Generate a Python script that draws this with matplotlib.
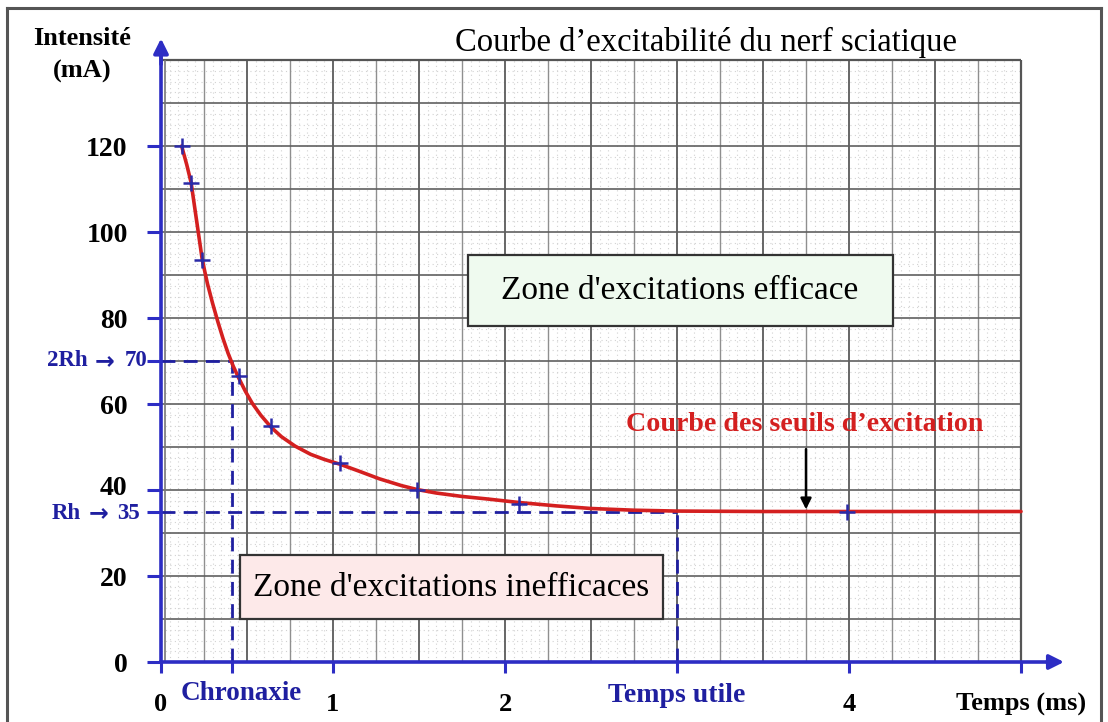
import numpy as np
import matplotlib
matplotlib.use("Agg")
import matplotlib.pyplot as plt
from matplotlib.patches import Rectangle
from matplotlib.lines import Line2D
from matplotlib.transforms import ScaledTranslation

# ---------------- data ----------------
marker_t = [0.12, 0.175, 0.24, 0.455, 0.64, 1.04, 1.49, 2.08, 3.99]
marker_i = [120, 111.5, 93.5, 66.5, 54.9, 46.3, 40.0, 36.8, 35.0]

curve_t = [0.12, 0.15, 0.175, 0.21, 0.24, 0.27, 0.30, 0.33, 0.36, 0.39, 0.42,
           0.45, 0.49, 0.53, 0.58, 0.64, 0.70, 0.78, 0.87, 0.95, 1.04, 1.15,
           1.27, 1.40, 1.49, 1.60, 1.75, 1.90, 2.08, 2.30, 2.50, 2.75, 3.00,
           3.50, 4.00, 4.50, 5.00]
curve_i = [120, 115.6, 111.5, 101.8, 93.5, 88.0, 83.4, 79.2, 75.3, 71.8, 68.8,
           66.2, 63.0, 60.2, 57.4, 54.6, 52.4, 50.2, 48.3, 47.1, 46.0, 44.4,
           42.6, 41.0, 40.1, 39.3, 38.5, 37.9, 37.1, 36.3, 35.7, 35.3, 35.1,
           35.0, 35.0, 35.0, 35.0]

rheobase = 35
double_rheobase = 70
chronaxie = 0.41
temps_utile = 3.0

y_ticks = [0, 20, 40, 60, 80, 100, 120]
y_tick_labels = ["0", "20", "40", "60", "80", "100", "120"]
x_ticks = [0, 1, 2, 4, 5]
x_tick_labels = ["0", "1", "2", "4", "Temps (ms)"]

title = "Courbe d\u2019excitabilit\u00e9 du nerf sciatique"
ylabel = "Intensit\u00e9\n(mA)"
curve_label = "Courbe des seuils d\u2019excitation"
zone_ok = "Zone d'excitations efficace"
zone_ko = "Zone d'excitations inefficaces"

# ---------------- style ----------------
BLUE = "#2d2dc4"
DBLUE = "#1f1fa0"
RED = "#d42020"
SERIF = ["Liberation Serif", "DejaVu Serif"]
plt.rcParams["font.family"] = SERIF

W, H = 1108, 722
fig = plt.figure(figsize=(W / 100, H / 100), dpi=100)
ax = fig.add_axes([0, 0, 1, 1])
x0, y0 = 161, 662          # pixel of origin (from top)
sx, sy = 172, 4.3          # px per ms, px per mA
ax.set_xlim(-x0 / sx, (W - x0) / sx)
ax.set_ylim(-(H - y0) / sy, y0 / sy)
ax.set_facecolor("white")

# ---------------- grid ----------------
xmax_g, ymax_g = 5.0, 140
fine_x = [v for v in np.arange(0, xmax_g + 1e-9, 0.05) if abs(v / 0.25 - round(v / 0.25)) > 1e-6]
fine_y = [v for v in np.arange(0, ymax_g + 1e-9, 2.5) if abs(v / 10 - round(v / 10)) > 1e-6]
ax.vlines(fine_x, 0, ymax_g, colors="#d2d2d2", linestyles=(0, (1, 3)), lw=0.8, zorder=1)
ax.hlines(fine_y, 0, xmax_g, colors="#d2d2d2", linestyles=(0, (1, 3)), lw=0.8, zorder=1)
q_x = [v for v in np.arange(0.25, xmax_g, 0.5)]
h_x = [v for v in np.arange(0.5, xmax_g, 0.5)]
ax.vlines(q_x, 0, ymax_g, colors="#8f8f8f", lw=1.0, zorder=1.5)
ax.vlines(h_x, 0, ymax_g, colors="#5a5a5a", lw=1.3, zorder=1.5)
ax.hlines(np.arange(10, ymax_g, 10), 0, xmax_g, colors="#606060", lw=1.2, zorder=1.5)
ax.hlines([ymax_g], 0, xmax_g, colors="#555555", lw=1.6, zorder=1.5)
ax.vlines([xmax_g], 0, ymax_g, colors="#555555", lw=1.6, zorder=1.5)
ax.vlines([0.025], 0, ymax_g, colors="#777777", lw=1.2, zorder=1.5)

# ---------------- zone boxes ----------------
ax.add_patch(Rectangle(((468 - x0) / sx, (y0 - 326) / sy), (893 - 468) / sx, (326 - 255) / sy,
                       facecolor="#effaef", edgecolor="#333333", lw=1.6, zorder=3))
ax.text((680 - x0) / sx, (y0 - 291) / sy, zone_ok, fontsize=24, ha="center", va="center", zorder=4)
ax.add_patch(Rectangle(((240 - x0) / sx, (y0 - 619) / sy), (663 - 240) / sx, (619 - 555) / sy,
                       facecolor="#fde9e9", edgecolor="#333333", lw=1.6, zorder=3))
ax.text((451 - x0) / sx, (y0 - 588) / sy, zone_ko, fontsize=24, ha="center", va="center", zorder=4)

# ---------------- dashed guides ----------------
dash = dict(color=DBLUE, lw=2.0, linestyle=(0, (5, 3)), zorder=4.5)
ax.plot([0, chronaxie], [double_rheobase, double_rheobase], **dash)
ax.plot([chronaxie, chronaxie], [0, double_rheobase], **dash)
ax.plot([0, temps_utile], [rheobase, rheobase], **dash)
ax.plot([temps_utile, temps_utile], [0, rheobase], **dash)

# ---------------- curve & points ----------------
ax.plot(curve_t, curve_i, color=RED, lw=2.6, zorder=5, solid_capstyle="round")
ax.plot(marker_t, marker_i, "+", color="#2a2aa8", ms=11, mew=1.8, zorder=6)

# ---------------- axes ----------------
for s in ["top", "right"]:
    ax.spines[s].set_visible(False)
ax.spines["left"].set_position(("data", 0))
ax.spines["bottom"].set_position(("data", 0))
ax.spines["left"].set_bounds(0, 142)
ax.spines["bottom"].set_bounds(0, 5.2)
for s in ["left", "bottom"]:
    ax.spines[s].set_color(BLUE)
    ax.spines[s].set_linewidth(2.6)
    ax.spines[s].set_zorder(7)
ax.annotate("", xy=(0, 145), xytext=(0, 139), zorder=8,
            arrowprops=dict(arrowstyle="-|>", color=BLUE, lw=2.6, mutation_scale=22, shrinkA=0, shrinkB=0))
ax.annotate("", xy=(5.25, 0), xytext=(5.15, 0), zorder=8,
            arrowprops=dict(arrowstyle="-|>", color=BLUE, lw=2.6, mutation_scale=22, shrinkA=0, shrinkB=0))

ax.set_yticks(y_ticks + [rheobase, double_rheobase])
ax.set_yticklabels(y_tick_labels + ["", ""], fontsize=20, fontweight="bold")
ax.set_xticks(x_ticks + [chronaxie, temps_utile])
ax.set_xticklabels(x_tick_labels + ["", ""], fontsize=19, fontweight="bold")
ax.tick_params(axis="y", direction="out", length=10, width=2.2, color=BLUE, pad=14)
ax.tick_params(axis="x", direction="out", length=8, width=2.2, color=BLUE, pad=14)
# nudge the "40" label up a little, as in the reference
for lab in ax.get_yticklabels():
    if lab.get_text() == "40":
        lab.set_transform(lab.get_transform() + ScaledTranslation(0, 3 / 72, fig.dpi_scale_trans))

# blue special labels (text, arrow glyph, value)
def rh_label(yval, name, val, off_val, off_arrow, off_name, dy):
    kw = dict(xy=(0, yval), textcoords="offset points", va="center",
              fontweight="bold", color=DBLUE)
    ax.annotate(val, xytext=(off_val, dy), ha="right", fontsize=16.5, **kw)
    ax.annotate("\u2192", xytext=(off_arrow, dy), ha="center", fontsize=17,
                family=["DejaVu Sans"], **kw)
    ax.annotate(name, xytext=(off_name, dy), ha="right", fontsize=16.5, **kw)

rh_label(double_rheobase, "2Rh", "70", -10, -41, -53, 0)
rh_label(rheobase, "Rh", "35", -15, -45, -58, -1.5)

ax.text((241 - x0) / sx, (y0 - 694) / sy, "Chronaxie", fontsize=19.5, fontweight="bold",
        color=DBLUE, ha="center", va="center")
ax.text((677 - x0) / sx, (y0 - 695) / sy, "Temps utile", fontsize=20, fontweight="bold",
        color=DBLUE, ha="center", va="center")

# title / labels
fig.text(706 / W, 1 - 42 / H, title, fontsize=23.5, ha="center", va="center")
fig.text(82 / W, 1 - 55 / H, ylabel, fontsize=19, fontweight="bold", ha="center", va="center",
         linespacing=1.55)
ax.text((805 - x0) / sx, (y0 - 424) / sy, curve_label, fontsize=20.2, fontweight="bold",
        color=RED, ha="center", va="center", zorder=6)
ax.annotate("", xy=(3.75, rheobase + 0.5), xytext=(3.75, 49.5), zorder=7,
            arrowprops=dict(arrowstyle="-|>", color="black", lw=1.8, mutation_scale=16,
                            shrinkA=0, shrinkB=0))

# outer frame
for xs, ys in [([7 / W, 7 / W], [0, 1 - 8 / H]), ([7 / W, 1101 / W], [1 - 8 / H, 1 - 8 / H]),
               ([1101 / W, 1101 / W], [0, 1 - 8 / H])]:
    fig.add_artist(Line2D(xs, ys, color="#555555", lw=2.2))

fig.savefig("out.png", dpi=100)
